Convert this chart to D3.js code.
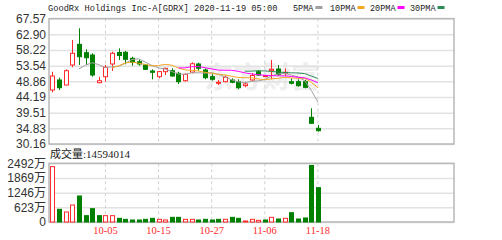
<!DOCTYPE html>
<html>
<head>
<meta charset="utf-8">
<script src="https://cdn.jsdelivr.net/npm/d3@7"></script>
<style>
  body { margin: 0; background: #fff; }
  svg { display: block; }
</style>
</head>
<body>
<script>
// trading days shown (GDRX since IPO)
var dates = ["09-23","09-24","09-25","09-28","09-29","09-30","10-01","10-02",
  "10-05","10-06","10-07","10-08","10-09","10-12","10-13","10-14","10-15","10-16",
  "10-19","10-20","10-21","10-22","10-23","10-26","10-27","10-28","10-29","10-30",
  "11-02","11-03","11-04","11-05","11-06","11-09","11-10","11-11","11-12","11-13",
  "11-16","11-17","11-18"];

var openP  = [46.27,49.25,47.76,53.73,59.90,57.40,56.71,48.45,50.24,54.03,57.46,57.52,55.73,54.71,53.73,51.94,50.24,51.73,52.03,51.25,49.04,51.60,54.03,52.24,50.24,48.27,48.75,49.25,48.75,47.56,49.25,51.73,50.45,52.03,52.54,51.25,48.75,48.75,48.75,38.12,34.84];
var closeP = [50.45,46.96,52.03,57.22,56.20,55.90,50.74,49.04,53.04,57.22,56.56,55.43,54.53,54.03,52.44,51.55,51.75,52.74,50.45,48.75,50.95,54.10,52.74,49.94,49.46,48.57,50.05,48.57,46.96,48.06,50.60,50.74,50.55,52.44,50.95,51.55,48.27,47.56,47.07,36.33,34.13];
var highP  = [51.73,49.94,52.44,61.19,64.68,58.41,57.22,50.24,53.73,57.70,58.71,57.90,56.20,55.43,54.03,52.44,51.94,52.92,52.74,51.73,51.25,54.53,54.43,52.74,50.95,49.25,50.55,49.76,49.46,48.75,51.25,52.24,50.74,55.22,53.73,52.74,49.76,49.46,49.25,40.81,35.83];
var lowP   = [45.58,46.27,47.67,53.04,53.73,53.73,50.24,48.27,48.75,51.94,55.22,53.93,53.52,53.52,52.24,49.46,49.76,50.74,50.24,48.06,48.75,51.25,52.03,49.46,49.04,47.76,48.57,48.27,46.48,47.07,49.04,50.45,50.24,49.46,50.45,50.45,47.97,47.26,46.77,36.13,33.83];
// volume in 万 shares
var volume = [2350,539,425,722,1104,269,566,269,269,269,156,113,85,85,113,156,113,85,198,198,113,113,85,113,85,113,113,198,156,42,113,70,85,198,127,156,395,127,170,2400,1459.4014];

var priceTicks = [67.57,62.90,58.22,53.54,48.86,44.19,39.51,34.83,30.16];
var volTicks = [0,623,1246,1869,2492];
var dateLabels = ["10-05","10-15","10-27","11-06","11-18"];
var maDays = [5,10,20,30];
var lastVolume = "14594014";
var title = "GoodRx Holdings Inc-A[GDRX] 2020-11-19 05:00";

function init() {
    var w = 502, h = 240;
    var left = 49, right = 454;
    var slots = 61;          // room on the x axis (data uses the first 41)
    var up = "#ff2a2a", down = "#008000";
    var maColors = ["#a0a0a0", "#f5a623", "#ff00ff", "#2e8b57"];

    var svg = d3.select("body").append("svg")
                .attr("width", w)
                .attr("height", h);

    var x = d3.scaleBand()
              .domain(d3.range(slots))
              .range([left, right])
              .paddingInner(0.25)
              .paddingOuter(0.125);
    var cx = function(i) { return x(i) + x.bandwidth() / 2; };

    var y = d3.scaleLinear().domain([30.16, 67.57]).range([144, 18.6]);
    var yv = d3.scaleLinear().domain([0, 2492]).range([222, 163.3]);

    // watermark
    svg.append("text")
       .attr("x", 262).attr("y", 88)
       .attr("text-anchor", "middle")
       .attr("font-family", "Noto Sans CJK SC")
       .attr("font-weight", "bold")
       .attr("font-size", 29)
       .attr("fill", "#eeeeee")
       .text("东方财富");

    // horizontal grid
    svg.append("g")
       .attr("transform", "translate(" + left + ",0)")
       .call(d3.axisLeft(y).tickValues(priceTicks).tickSize(-(right - left)).tickFormat(""))
       .call(g => g.select(".domain").remove())
       .selectAll("line").attr("stroke", "#e2e2e2").attr("stroke-width", 1.5);
    svg.append("g")
       .attr("transform", "translate(" + left + ",0)")
       .call(d3.axisLeft(yv).tickValues(volTicks).tickSize(-(right - left)).tickFormat(""))
       .call(g => g.select(".domain").remove())
       .selectAll("line").attr("stroke", "#e2e2e2").attr("stroke-width", 1.5);

    // vertical dashed grid
    var labelIdx = dateLabels.map(d => dates.indexOf(d));
    [[18.6, 144], [163.3, 222]].forEach(function(p) {
        svg.append("g")
           .attr("transform", "translate(0," + p[0] + ")")
           .call(d3.axisBottom(x).tickValues(labelIdx).tickSize(p[1] - p[0]).tickFormat(""))
           .call(g => g.select(".domain").remove())
           .selectAll("line")
           .attr("stroke", "#d0d0d0")
           .attr("stroke-dasharray", "3,3");
    });

    // frames
    svg.append("rect").attr("x", left).attr("y", 18.6).attr("width", right - left).attr("height", 144 - 18.6)
       .attr("fill", "none").attr("stroke", "#b8b8b8").attr("stroke-width", 1.5);
    svg.append("rect").attr("x", left).attr("y", 163.3).attr("width", right - left).attr("height", 222 - 163.3)
       .attr("fill", "none").attr("stroke", "#b8b8b8").attr("stroke-width", 1.5);

    // y axis labels
    svg.append("g")
       .attr("transform", "translate(" + left + ",0)")
       .call(d3.axisLeft(y).tickValues(priceTicks).tickFormat(d3.format(".2f")).tickSize(0).tickPadding(3))
       .call(g => g.select(".domain").remove())
       .attr("font-family", "Liberation Sans, Arial, sans-serif")
       .attr("font-size", 12)
       .selectAll("text").attr("fill", "#333");
    svg.append("g")
       .attr("transform", "translate(" + left + ",0)")
       .call(d3.axisLeft(yv).tickValues(volTicks).tickFormat(d => d === 0 ? "0" : d + "万").tickSize(0).tickPadding(3))
       .call(g => g.select(".domain").remove())
       .attr("font-family", "Liberation Sans, Noto Sans CJK SC, sans-serif")
       .attr("font-size", 12)
       .selectAll("text").attr("fill", "#333");

    // x labels
    svg.append("g")
       .attr("transform", "translate(0,222)")
       .call(d3.axisBottom(x).tickValues(labelIdx).tickFormat(i => dates[i]).tickSize(0).tickPadding(5))
       .call(g => g.select(".domain").remove())
       .attr("font-family", "Liberation Serif, serif")
       .attr("font-size", 10.5)
       .selectAll("text").attr("fill", up);

    // candles
    var idx = d3.range(dates.length);
    var candle = svg.append("g").selectAll("g")
                    .data(idx)
                    .enter()
                    .append("g");
    candle.append("line")
          .attr("x1", i => Math.round(cx(i)) + 0.5)
          .attr("x2", i => Math.round(cx(i)) + 0.5)
          .attr("y1", i => y(highP[i]))
          .attr("y2", i => y(lowP[i]))
          .attr("stroke", i => closeP[i] >= openP[i] ? up : down);
    candle.append("rect")
          .attr("x", i => Math.round(cx(i)) - 1.5)
          .attr("width", 4)
          .attr("y", i => y(Math.max(openP[i], closeP[i])))
          .attr("height", i => Math.max(1, Math.abs(y(openP[i]) - y(closeP[i]))))
          .attr("fill", i => closeP[i] >= openP[i] ? "#fff" : down)
          .attr("stroke", i => closeP[i] >= openP[i] ? up : down);

    // moving averages
    maDays.forEach(function(n, k) {
        var ma = idx.map(i => i < n - 1 ? null : d3.mean(closeP.slice(i - n + 1, i + 1)));
        var line = d3.line()
                     .defined(i => ma[i] !== null)
                     .x(i => cx(i))
                     .y(i => y(ma[i]));
        svg.append("path")
           .datum(idx)
           .attr("d", line)
           .attr("fill", "none")
           .attr("stroke", maColors[k])
           .attr("stroke-width", 1);
    });

    // volume bars, coloured by close vs previous close
    var rise = i => i === 0 ? closeP[0] >= openP[0] : closeP[i] >= closeP[i - 1];
    svg.append("g").selectAll("rect")
       .data(idx)
       .enter()
       .append("rect")
       .attr("x", i => Math.round(cx(i)) - 1.5)
       .attr("width", 4)
       .attr("y", i => yv(volume[i]))
       .attr("height", i => Math.max(0.5, yv(0) - yv(volume[i])))
       .attr("fill", i => rise(i) ? "#fff" : down)
       .attr("stroke", i => rise(i) ? up : down);

    // title + legend
    svg.append("text")
       .attr("x", 48).attr("y", 10.5)
       .attr("font-family", "Liberation Mono, monospace")
       .attr("font-size", 8.7)
       .attr("fill", "#222")
       .text(title);

    var legX = [293, 330, 370, 410];
    maDays.forEach(function(n, k) {
        var t = svg.append("text")
                   .attr("x", legX[k]).attr("y", 10.5)
                   .attr("font-family", "Liberation Mono, monospace")
                   .attr("font-size", 8.5)
                   .attr("fill", "#222")
                   .text(n + "PMA");
        var tw = t.node().getComputedTextLength();
        svg.append("rect")
           .attr("x", legX[k] + tw + 2).attr("y", 6)
           .attr("width", 7).attr("height", 3)
           .attr("fill", maColors[k]);
    });

    // volume caption
    var cap = svg.append("text")
                 .attr("x", 50).attr("y", 157.5)
                 .attr("font-size", 11)
                 .attr("fill", "#222");
    cap.append("tspan").attr("font-family", "Noto Sans CJK SC").text("成交量");
    cap.append("tspan").attr("font-family", "Liberation Serif, serif").text(":" + lastVolume);
}

window.onload = init;
</script>
</body>
</html>
